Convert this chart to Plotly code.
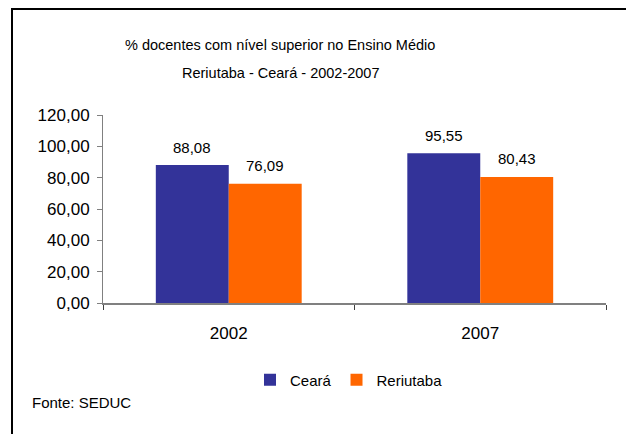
import plotly.graph_objects as go

categories = ["2002", "2007"]
ceara = [88.08, 95.55]
reriutaba = [76.09, 80.43]
series_names = ["Ceará", "Reriutaba"]
colors = ["#333399", "#FF6600"]
y_ticks = [0, 20, 40, 60, 80, 100, 120]
title_lines = ["% docentes com nível superior no Ensino Médio", "Reriutaba - Ceará - 2002-2007"]
source_text = "Fonte: SEDUC"

OFF = 8  # page body margin
W, H = 634 - OFF, 434 - OFF
L, T = 103 - OFF, 115 - OFF
pw, ph = 503, 188
R, B = W - L - pw, H - T - ph

def px_x(p):
    return (p - OFF - L) / pw

def px_y(p):
    return (T + ph - (p - OFF)) / ph

fig = go.Figure()
for name, vals, col in zip(series_names, [ceara, reriutaba], colors):
    fig.add_trace(go.Bar(x=categories, y=vals, name=name, marker=dict(color=col, line=dict(width=0))))

def fmt(v):
    return f"{v:.2f}".replace(".", ",")

bar_w = pw / len(categories) * (1 - 0.42) / 2
annotations = []
for i, vals in enumerate([ceara, reriutaba]):
    shift = (-0.5 + i) * bar_w
    for ci, v in enumerate(vals):
        annotations.append(dict(x=ci, y=v, xref="x", yref="y", text=fmt(v), showarrow=False,
                                xshift=shift, yshift=18, yanchor="middle",
                                font=dict(family="Liberation Sans", size=15, color="#000")))

title_font = dict(family="Liberation Sans", size=14.5, color="#000")
annotations.append(dict(x=px_x(280), y=px_y(45), xref="paper", yref="paper", text=title_lines[0],
                        showarrow=False, xanchor="center", yanchor="middle", font=title_font))
annotations.append(dict(x=px_x(280), y=px_y(73), xref="paper", yref="paper", text=title_lines[1],
                        showarrow=False, xanchor="center", yanchor="middle", font=title_font))
annotations.append(dict(x=px_x(30), y=px_y(402), xref="paper", yref="paper", text=source_text,
                        showarrow=False, xanchor="left", yanchor="middle",
                        font=dict(family="Liberation Sans", size=15, color="#000")))

fig.update_layout(
    width=W, height=H, autosize=False,
    margin=dict(l=L, r=R, t=T, b=B, pad=0),
    paper_bgcolor="white", plot_bgcolor="white",
    barmode="group", bargap=0.42, bargroupgap=0,
    separators=",.",
    showlegend=True,
    legend=dict(orientation="h", x=px_x(349), y=px_y(380), xanchor="center", yanchor="middle",
                font=dict(family="Liberation Sans", size=15, color="#000"), itemwidth=30,
                bgcolor="rgba(0,0,0,0)"),
    annotations=annotations,
    shapes=[dict(type="rect", xref="paper", yref="paper",
                 x0=px_x(12), x1=px_x(700), y0=px_y(520), y1=px_y(9),
                 line=dict(color="black", width=2), layer="above")],
    font=dict(family="Liberation Sans", color="#000"),
)
fig.update_yaxes(range=[0, 120], tickvals=y_ticks, tickformat=".2f", showgrid=False, zeroline=False,
                 showline=True, linecolor="#808080", linewidth=1, ticks="outside", ticklen=5,
                 tickcolor="#808080", tickfont=dict(family="Liberation Sans", size=17, color="#000"),
                 ticklabelstandoff=4)
fig.update_xaxes(type="category", range=[-0.5, len(categories) - 0.5], showline=True,
                 linecolor="#808080", linewidth=2, ticks="outside",
                 ticklen=5, tickson="boundaries", tickcolor="#404040", showgrid=False,
                 tickfont=dict(family="Liberation Sans", size=17, color="#000"), ticklabelstandoff=14)

fig.write_html("out.html")
